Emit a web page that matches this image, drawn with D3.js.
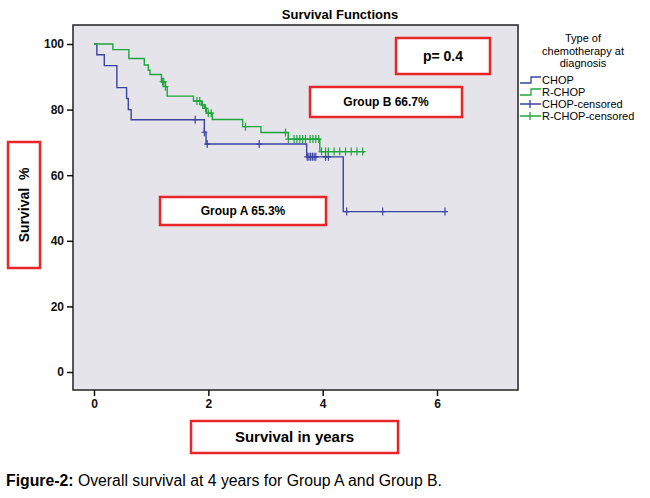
<!DOCTYPE html><html><head><meta charset="utf-8"><script src="https://cdn.jsdelivr.net/npm/d3@7"></script>
<style>body{margin:0;background:#fff}</style></head><body><svg id="c" width="650" height="498"></svg>
<script>
const xTicks=[0,2,4,6], yTicks=[0,20,40,60,80,100];
const chopT=[0,0.05,0.18,0.4,0.57,0.6,0.65,1.93,1.96,3.72,4.36,6.14];
const chopS=[100,96.7,93.4,86.7,83.4,80,76.9,73.1,69.5,65.6,48.9,48.9];
const chopCens=[1.77,1.93,1.98,2.89,3.73,3.76,3.79,3.82,3.85,3.88,4.05,4.1,4.42,5.05,6.14];
const rchopT=[0,0.33,0.61,0.88,0.95,0.98,1.18,1.25,1.28,1.74,1.88,1.93,1.97,2.07,2.6,2.92,3.4,3.95,4.71];
const rchopS=[100,98.3,95.6,93.6,92,90.7,88.5,87,84.1,82.6,81.4,80.4,78.9,77,74.8,73,71,67.2,66.7];
const rchopCens=[1.2,1.22,1.25,1.8,1.85,1.9,1.95,2.0,2.05,2.65,3.35,3.4,3.5,3.55,3.6,3.65,3.7,3.78,3.83,3.88,3.93,3.98,4.05,4.1,4.2,4.3,4.4,4.5,4.6,4.7];
const svg=d3.select("#c");
const L=73,R=518,T=25,B=390;
const x=d3.scaleLinear([0,6],[94,437]);
const y=d3.scaleLinear([0,100],[372,44]);
svg.append("rect").attr("x",L).attr("y",T).attr("width",R-L).attr("height",B-T).attr("fill","#e5e4ea").attr("stroke","#222").attr("stroke-width",1.5);
svg.append("text").attr("x",340).attr("y",19).attr("text-anchor","middle").attr("font-family","Liberation Sans").attr("font-weight","bold").attr("font-size",13).text("Survival Functions");
const ya=svg.append("g").attr("transform",`translate(${L},0)`).call(d3.axisLeft(y).tickValues(yTicks).tickSize(6).tickFormat(d3.format("d")));
const xa=svg.append("g").attr("transform",`translate(0,${B})`).call(d3.axisBottom(x).tickValues(xTicks).tickSize(6).tickFormat(d3.format("d")));
[ya,xa].forEach(a=>{a.select(".domain").remove();a.selectAll("text").attr("font-family","Liberation Sans").attr("font-weight","bold").attr("font-size",12).attr("fill","#111");a.selectAll("line").attr("stroke","#111").attr("stroke-width",1.5);});
function stepPath(T_,S_){let p=`M${x(T_[0])},${y(S_[0])}`;for(let i=1;i<T_.length;i++){p+=`H${x(T_[i])}V${y(S_[i])}`;}return p;}
function sAt(T_,S_,t){let v=S_[0];for(let i=0;i<T_.length;i++) if(T_[i]<=t) v=S_[i];return v;}
function draw(T_,S_,C,col){
 svg.append("path").attr("d",stepPath(T_,S_)).attr("fill","none").attr("stroke",col).attr("stroke-width",1.4);
 svg.selectAll(null).data(C).enter().append("path").attr("d",t=>{const px=x(t),py=y(sAt(T_,S_,t));return `M${px-3},${py}H${px+3}M${px},${py-4}V${py+4}`;}).attr("stroke",col).attr("stroke-width",1.2);
}
draw(chopT,chopS,chopCens,"#3b43a0");
draw(rchopT,rchopS,rchopCens,"#1fa53c");
function box(x0,y0,w,h,txt,fs){svg.append("rect").attr("x",x0).attr("y",y0).attr("width",w).attr("height",h).attr("fill","#fff").attr("stroke","#e8262a").attr("stroke-width",2.5);
 svg.append("text").attr("x",x0+w/2).attr("y",y0+h/2+fs*0.36).attr("text-anchor","middle").attr("font-family","Liberation Sans").attr("font-weight","bold").attr("font-size",fs).text(txt);}
box(396,38,94,36,"p= 0.4",14);
box(310,87,152,30,"Group B 66.7%",12);
box(160,197,166,28,"Group A 65.3%",12);
box(191,421,207,32,"Survival in years",15);
svg.append("rect").attr("x",8).attr("y",142).attr("width",32).attr("height",126).attr("fill","#fff").attr("stroke","#e8262a").attr("stroke-width",2.5);
svg.append("text").attr("transform","translate(29,205) rotate(-90)").attr("text-anchor","middle").attr("font-family","Liberation Sans").attr("font-weight","bold").attr("font-size",14).attr("xml:space","preserve").text("Survival  %");
const lg=svg.append("g").attr("font-family","Liberation Sans").attr("font-size",11);
["Type of","chemotherapy at","diagnosis"].forEach((s,i)=>lg.append("text").attr("x",583).attr("y",42+i*12.5).attr("text-anchor","middle").attr("font-size",11).text(s));
const items=[["CHOP","#3b43a0",0],["R-CHOP","#1fa53c",0],["CHOP-censored","#3b43a0",1],["R-CHOP-censored","#1fa53c",1]];
items.forEach((d,i)=>{const yy=80+i*12;
 if(d[2]==0) lg.append("path").attr("d",`M520,${yy+3}H531V${yy-3}H541`).attr("fill","none").attr("stroke",d[1]).attr("stroke-width",1.3);
 else lg.append("path").attr("d",`M520,${yy}H541M530,${yy-4}V${yy+4}`).attr("stroke",d[1]).attr("stroke-width",1.3);
 lg.append("text").attr("x",542).attr("y",yy+4).text(d[0]);});
const cap=svg.append("text").attr("x",6).attr("y",486).attr("font-family","Liberation Sans").attr("font-size",16).attr("textLength",436).attr("lengthAdjust","spacingAndGlyphs");
cap.append("tspan").attr("font-weight","bold").text("Figure-2:");
cap.append("tspan").text(" Overall survival at 4 years for Group A and Group B.");
</script></body></html>
